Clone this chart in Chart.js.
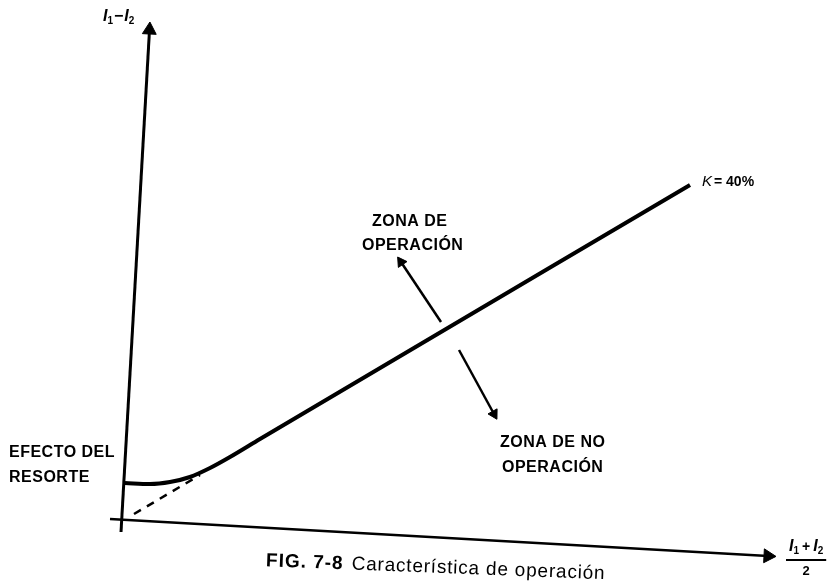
<!DOCTYPE html>
<html>
<head>
<meta charset="utf-8">
<script src="https://cdn.jsdelivr.net/npm/chart.js@4/dist/chart.umd.min.js"></script>
<style>
  html, body { margin: 0; padding: 0; background: #fff; }
  #wrap { width: 832px; height: 582px; position: relative; }
</style>
</head>
<body>
<div id="wrap"><canvas id="chart"></canvas></div>
<script>
// values, in arbitrary current units ((I1+I2)/2 across, I1-I2 up)
const yAxisX = [-0.1, 2.75];
const yAxisY = [-1.0, 49.2];
const xAxisX = [-1.2, 64.6];
const xAxisY = [0.3, -3.4];

// operating characteristic K = 40%, bent near the origin by the spring
const curveX = [0.3, 2.8, 4.8, 6.8, 8.8, 10.8, 13.8, 56.8];
const curveY = [3.9, 3.8, 4.0, 4.5, 5.4, 6.5, 8.3, 33.7];

// straight K line continued down to the origin
const dashX = [1.2, 7.8];
const dashY = [0.8, 4.7];

// zone arrows, tail -> tip
const opArrowX = [31.9, 27.9];
const opArrowY = [20.0, 26.0];
const noOpArrowX = [33.7, 37.2];
const noOpArrowY = [17.2, 10.8];

const notes = [
  { text: 'EFECTO DEL', x: -11.3, y: 6.9 },
  { text: 'RESORTE', x: -11.3, y: 4.4 },
  { text: 'ZONA DE', x: 25.0, y: 30.0 },
  { text: 'OPERACIÓN', x: 24.0, y: 27.6 },
  { text: 'ZONA DE NO', x: 37.8, y: 7.9 },
  { text: 'OPERACIÓN', x: 38.0, y: 5.4 },
];

const FONT = '"Liberation Sans", Arial, sans-serif';
const pts = (xs, ys) => xs.map((x, i) => ({ x, y: ys[i] }));

function line(xs, ys, width, extra) {
  return Object.assign({
    data: pts(xs, ys),
    borderColor: '#000',
    backgroundColor: '#000',
    borderWidth: width,
    pointRadius: 0,
    tension: 0,
    fill: false,
  }, extra || {});
}

// arrowhead = triangle on the last point
function arrow(xs, ys, width, rot, size) {
  return line(xs, ys, width, {
    pointStyle: 'triangle',
    pointRadius: [0, size],
    pointRotation: rot,
    pointBorderWidth: 1,
  });
}

function rich(ctx, parts, x, y) {
  parts.forEach(p => {
    ctx.font = p.font;
    ctx.letterSpacing = p.ls || '0px';
    ctx.fillText(p.t, x, y + (p.dy || 0));
    x += ctx.measureText(p.t).width + (p.gap || 0);
  });
  ctx.letterSpacing = '0px';
  return x;
}

const textPlugin = {
  id: 'texts',
  afterDraw(chart) {
    const ctx = chart.ctx;
    const sx = chart.scales.x, sy = chart.scales.y;
    const px = v => sx.getPixelForValue(v);
    const py = v => sy.getPixelForValue(v);
    ctx.save();
    ctx.fillStyle = '#000';
    ctx.textBaseline = 'middle';
    ctx.textAlign = 'left';

    ctx.font = 'bold 16px ' + FONT;
    ctx.letterSpacing = '0.5px';
    notes.forEach(n => ctx.fillText(n.text, px(n.x), py(n.y)));
    ctx.letterSpacing = '0px';

    // K = 40%
    rich(ctx, [
      { t: 'K', font: 'italic 15px ' + FONT, gap: 2 },
      { t: '= 40%', font: 'bold 14px ' + FONT },
    ], px(58.0), py(34.0));

    // y axis label I1 - I2
    const it = 'italic bold 16px ' + FONT;
    const sub = 'bold 10px ' + FONT;
    rich(ctx, [
      { t: 'I', font: it },
      { t: '1', font: sub, dy: 4, gap: 1 },
      { t: '−', font: 'bold 16px ' + FONT, gap: 1 },
      { t: 'I', font: it },
      { t: '2', font: sub, dy: 4 },
    ], px(-1.9), py(50.5));

    // x axis label (I1 + I2) / 2
    const left = px(66.7), top = py(-2.5);
    const right = rich(ctx, [
      { t: 'I', font: it },
      { t: '1', font: sub, dy: 4, gap: 3 },
      { t: '+', font: 'bold 14px ' + FONT, gap: 3 },
      { t: 'I', font: it },
      { t: '2', font: sub, dy: 4 },
    ], left, top);
    ctx.fillRect(left - 3, top + 12, right - left + 6, 2);
    ctx.font = 'bold 13px ' + FONT;
    ctx.textAlign = 'center';
    ctx.fillText('2', (left + right) / 2, top + 24);

    // caption, slightly rotated like the scan
    ctx.textAlign = 'left';
    ctx.translate(px(14.4), py(-3.9));
    ctx.rotate(2.2 * Math.PI / 180);
    rich(ctx, [
      { t: 'FIG. 7-8', font: 'bold 19px ' + FONT, gap: 8, ls: '1px' },
      { t: 'Característica de operación', font: '19px ' + FONT, ls: '0.8px' },
    ], 0, 0);
    ctx.restore();
  }
};

new Chart(document.getElementById('chart'), {
  type: 'line',
  data: {
    datasets: [
      arrow(yAxisX, yAxisY, 3, 3, 8),
      arrow(xAxisX, xAxisY, 2.5, 93, 8),
      line(curveX, curveY, 4, { cubicInterpolationMode: 'monotone' }),
      line(dashX, dashY, 2.5, { borderDash: [8, 7] }),
      arrow(opArrowX, opArrowY, 2.5, -34, 6),
      arrow(noOpArrowX, noOpArrowY, 2.5, 151, 6),
    ],
  },
  options: {
    responsive: true,
    maintainAspectRatio: false,
    animation: false,
    layout: { padding: 0, autoPadding: false },
    plugins: { legend: { display: false }, tooltip: { enabled: false } },
    scales: {
      x: { type: 'linear', min: -12.2, max: 71, display: false },
      y: { type: 'linear', min: -6, max: 52.2, display: false },
    },
  },
  plugins: [textPlugin],
});
</script>
</body>
</html>
